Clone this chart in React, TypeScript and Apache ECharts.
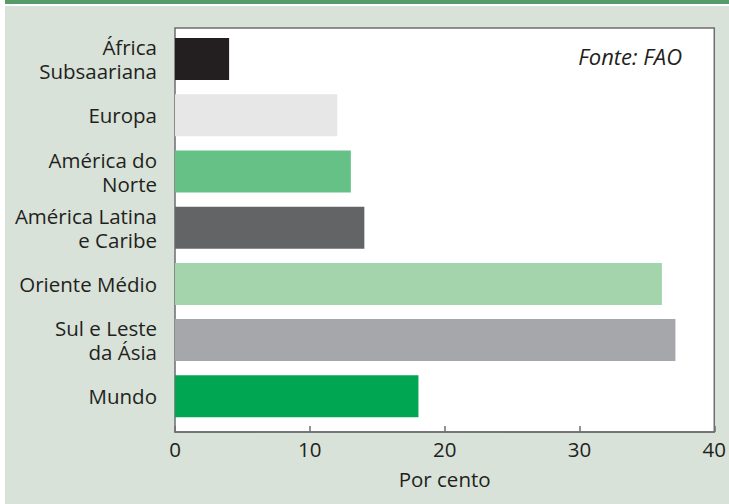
import React, { useEffect, useRef } from "react";
import * as echarts from "echarts";

const categories = [
  "África\nSubsaariana",
  "Europa",
  "América do\nNorte",
  "América Latina\ne Caribe",
  "Oriente Médio",
  "Sul e Leste\nda Ásia",
  "Mundo",
];
const values = [4, 12, 13, 14, 36, 37, 18];
const barColors = ["#231f20", "#e6e7e6", "#66c187", "#636466", "#a3d4ac", "#a6a7aa", "#00a651"];
const xTicks = [0, 10, 20, 30, 40];

export default function App() {
  const ref = useRef<HTMLDivElement>(null);
  useEffect(() => {
    const chart = echarts.init(ref.current!, null, { renderer: "svg" });
    const font = "'Open Sans', 'Noto Sans', sans-serif";
    const fs = 20.5;
    chart.setOption({
      animation: false,
      backgroundColor: "#ffffff",
      graphic: [
        { type: "rect", z: -10, shape: { x: 5, y: 0, width: 724, height: 4 }, style: { fill: "#579b68" } },
        { type: "rect", z: -10, shape: { x: 5, y: 6, width: 724, height: 498 }, style: { fill: "#d8e2d8" } },
        {
          type: "text",
          z: 10,
          x: 682,
          y: 56,
          style: {
            text: "Fonte: FAO",
            font: `italic 22px ${font}`,
            fill: "#231f20",
            align: "right",
            verticalAlign: "middle",
          },
        },
      ],
      grid: [
        {
          left: 175,
          top: 28,
          width: 541,
          height: 404,
          show: true,
          backgroundColor: "#ffffff",
          borderColor: "#6d6e70",
          borderWidth: 1.5,
          z: 0,
        },
        { left: 175, top: 31, width: 541, height: 393.4 },
      ],
      xAxis: [
        {
          type: "value",
          gridIndex: 0,
          min: xTicks[0],
          max: xTicks[xTicks.length - 1],
          interval: 10,
          name: "Por cento",
          nameLocation: "middle",
          nameGap: 36,
          nameTextStyle: { fontFamily: font, fontSize: fs, color: "#231f20" },
          axisLine: { show: true, lineStyle: { color: "#6d6e70", width: 1.5 } },
          axisTick: { show: true, inside: true, length: 6, lineStyle: { color: "#6d6e70", width: 1.5 } },
          axisLabel: { fontFamily: font, fontSize: fs, color: "#231f20", margin: 6 },
          splitLine: { show: false },
        },
        {
          type: "value",
          gridIndex: 1,
          min: xTicks[0],
          max: xTicks[xTicks.length - 1],
          interval: 10,
          show: false,
          splitLine: { show: false },
        },
      ],
      yAxis: [
        {
          type: "category",
          gridIndex: 0,
          data: categories,
          show: false,
        },
        {
          type: "category",
          gridIndex: 1,
          data: categories,
          inverse: true,
          axisLine: { show: false },
          axisTick: { show: false },
          axisLabel: {
            fontFamily: font,
            fontSize: fs,
            color: "#231f20",
            margin: 18,
            lineHeight: 24,
            align: "right",
          },
        },
      ],
      series: [
        {
          type: "bar",
          xAxisIndex: 1,
          yAxisIndex: 1,
          barWidth: 42,
          z: 5,
          data: values.map((v, i) => ({ value: v, itemStyle: { color: barColors[i] } })),
        },
      ],
    });
    return () => chart.dispose();
  }, []);
  return (
    <div
      ref={ref}
      style={{ position: "fixed", left: 0, top: 0, width: 729, height: 504 }}
    />
  );
}
